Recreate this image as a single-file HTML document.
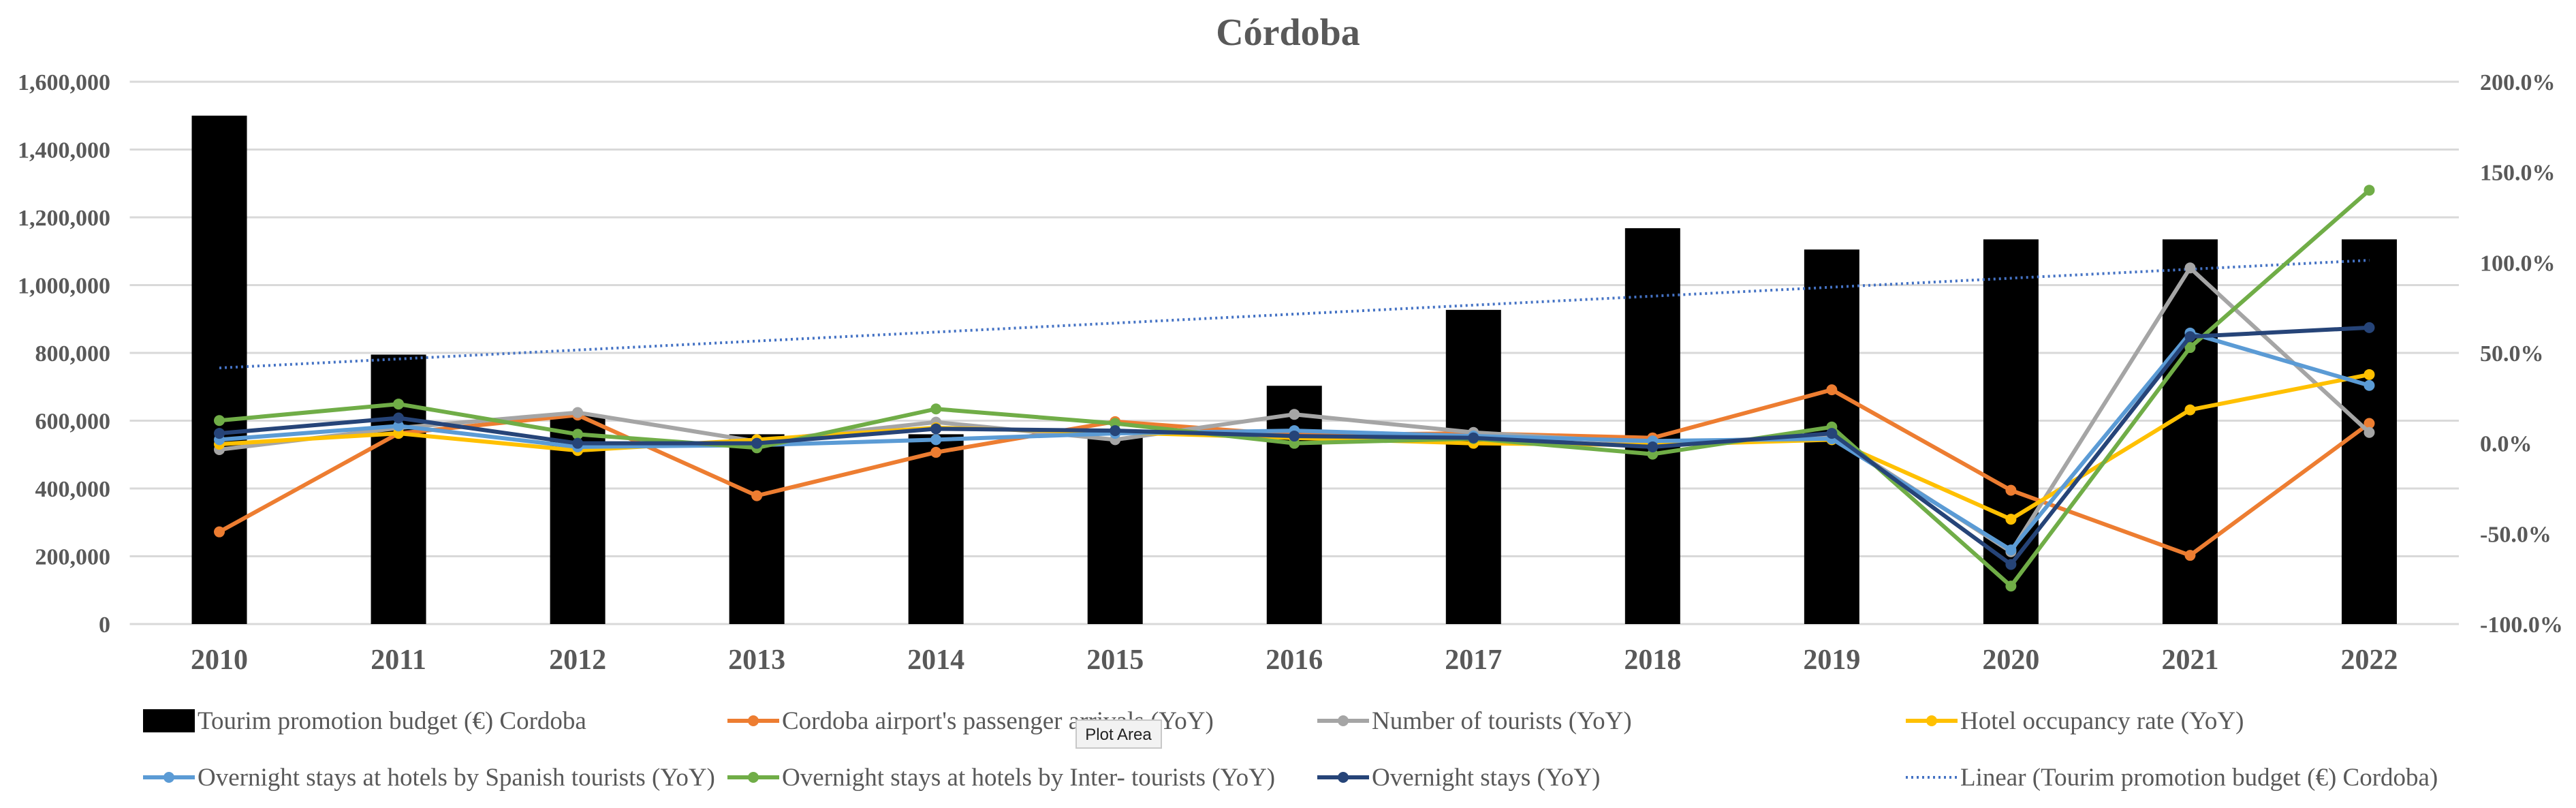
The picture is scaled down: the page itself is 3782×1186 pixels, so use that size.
<!DOCTYPE html>
<html><head><meta charset="utf-8"><style>
html,body{margin:0;padding:0;background:#fff;}
svg{display:block;font-family:"Liberation Serif",serif;}
</style></head><body>
<svg id="chart" width="3782" height="1186" viewBox="0 0 3782 1186" xmlns="http://www.w3.org/2000/svg">
<text x="1891" y="66" text-anchor="middle" font-size="56" font-weight="bold" fill="#595959">Córdoba</text>
<g id="grid"></g><g id="bars"></g><g id="trend"></g><g id="lines"></g><g id="axes"></g><g id="legend"></g>
<g>
<rect x="1580" y="1057" width="125" height="41" fill="#f2f2f2" stroke="#c8c8c8" stroke-width="2"/>
<text x="1642" y="1086" text-anchor="middle" font-family="Liberation Sans, sans-serif" font-size="24" fill="#222">Plot Area</text>
</g>
</svg>
<script>
const years=["2010","2011","2012","2013","2014","2015","2016","2017","2018","2019","2020","2021","2022"];
const budget=[1500000,795000,615000,560000,560000,550000,703000,927000,1168000,1105000,1135000,1135000,1135000];
const airport=[-49,5.5,15.6,-29,-5,12,4.6,5.5,3,29.6,-26,-62,11];
const tourists=[-3.5,8.5,17,1,11.7,2,16,6,0,4,-60,97,6];
const occupancy=[-0.5,5.5,-4,2,8.6,6,3,0,-1,2,-42,18.5,38];
const spanish=[2,9.6,-2,-1,2,5.5,7,4,1.3,2.5,-59,61,32];
const inter=[12.6,21.7,5,-2.5,19,11,0,2.6,-6,9,-79,53,140];
const overnight=[5.5,14,0,0,8,7,4,3,-2,5.5,-67,59,64];
const leftTicks=[0,200000,400000,600000,800000,1000000,1200000,1400000,1600000];
const rightTicks=[-100,-50,0,50,100,150,200];

const NS="http://www.w3.org/2000/svg";
const L=190.5,R=3610,T=120,B=916;
const step=(R-L)/years.length;
const xc=i=>L+step*(i+0.5);
const yL=v=>B-(v/1600000)*(B-T);
const yR=v=>B-((v+100)/300)*(B-T);
function mk(tag,attrs,parent){const e=document.createElementNS(NS,tag);for(const k in attrs)e.setAttribute(k,attrs[k]);parent.appendChild(e);return e;}
const g=id=>document.getElementById(id);

leftTicks.forEach(v=>{
 const ln=mk('line',{x1:L,x2:R,y1:yL(v),y2:yL(v),stroke:'#d9d9d9','stroke-width':3},g('grid'));
 
 
 const t=mk('text',{x:162,y:yL(v)+12,'text-anchor':'end','font-size':34,'font-weight':'bold',fill:'#595959'},g('axes'));
 t.textContent=v.toLocaleString('en-US');
 
 
});
rightTicks.forEach(v=>{
 const t=mk('text',{x:3641,y:yR(v)+12,'font-size':34,'font-weight':'bold',fill:'#595959'},g('axes'));
 t.textContent=v.toFixed(1)+'%';
 
 
});
years.forEach((yr,i)=>{
 const t=mk('text',{x:xc(i),y:982,'text-anchor':'middle','font-size':42,'font-weight':'bold',fill:'#595959'},g('axes'));
 t.textContent=yr;
 
 
});
budget.forEach((v,i)=>{
 const r=mk('rect',{x:xc(i)-40.5,y:yL(v),width:81,height:B-yL(v),fill:'#000'},g('bars'));
 
 
});
(function(){const n=budget.length;let sx=0,sy=0,sxy=0,sxx=0;budget.forEach((v,i)=>{sx+=i;sy+=v;sxy+=i*v;sxx+=i*i;});
 const b=(n*sxy-sx*sy)/(n*sxx-sx*sx),a=(sy-b*sx)/n;
 const ln=mk('line',{x1:xc(0),y1:yL(a),x2:xc(n-1),y2:yL(a+b*(n-1)),stroke:'#4472C4','stroke-width':4,'stroke-dasharray':'3 5'},g('trend'));
 
 
})();
const series=[[airport,'#ED7D31','airport-arrivals'],[tourists,'#A5A5A5','number-of-tourists'],[occupancy,'#FFC000','hotel-occupancy'],[spanish,'#5B9BD5','spanish-overnight-stays'],[inter,'#70AD47','international-overnight-stays'],[overnight,'#264478','overnight-stays']];
series.forEach(([d,c,name])=>{
 const grp=mk('g',{},g('lines'));
 
 
 const pl=mk('polyline',{points:d.map((v,i)=>xc(i)+','+yR(v)).join(' '),fill:'none',stroke:c,'stroke-width':6,'stroke-linejoin':'round'},grp);
 
 
 d.forEach((v,i)=>{const m=mk('circle',{cx:xc(i),cy:yR(v),r:8,fill:c},grp);
  
  });
});
const legend=[
 ['bar','#000','Tourim promotion budget (€) Cordoba',210,1058],
 ['line','#ED7D31',"Cordoba airport's passenger arrivals (YoY)",1068,1058],
 ['line','#A5A5A5','Number of tourists (YoY)',1934,1058],
 ['line','#FFC000','Hotel occupancy rate (YoY)',2798,1058],
 ['line','#5B9BD5','Overnight stays at hotels by Spanish tourists (YoY)',210,1141],
 ['line','#70AD47','Overnight stays at hotels by Inter- tourists (YoY)',1068,1141],
 ['line','#264478','Overnight stays (YoY)',1934,1141],
 ['dot','#4472C4','Linear (Tourim promotion budget (€) Cordoba)',2798,1141]];
legend.forEach(([type,c,label,x,y])=>{
 const grp=mk('g',{},g('legend'));
 
 
 if(type==='bar')mk('rect',{x:x,y:y-17,width:76,height:34,fill:c},grp);
 else if(type==='line'){mk('line',{x1:x,x2:x+76,y1:y,y2:y,stroke:c,'stroke-width':6},grp);mk('circle',{cx:x+38,cy:y,r:8,fill:c},grp);}
 else mk('line',{x1:x,x2:x+76,y1:y,y2:y,stroke:c,'stroke-width':4,'stroke-dasharray':'3 5'},grp);
 const t=mk('text',{x:x+80,y:y+12,'font-size':37,fill:'#595959'},grp);
 t.textContent=label;
});
</script>
</body></html>
